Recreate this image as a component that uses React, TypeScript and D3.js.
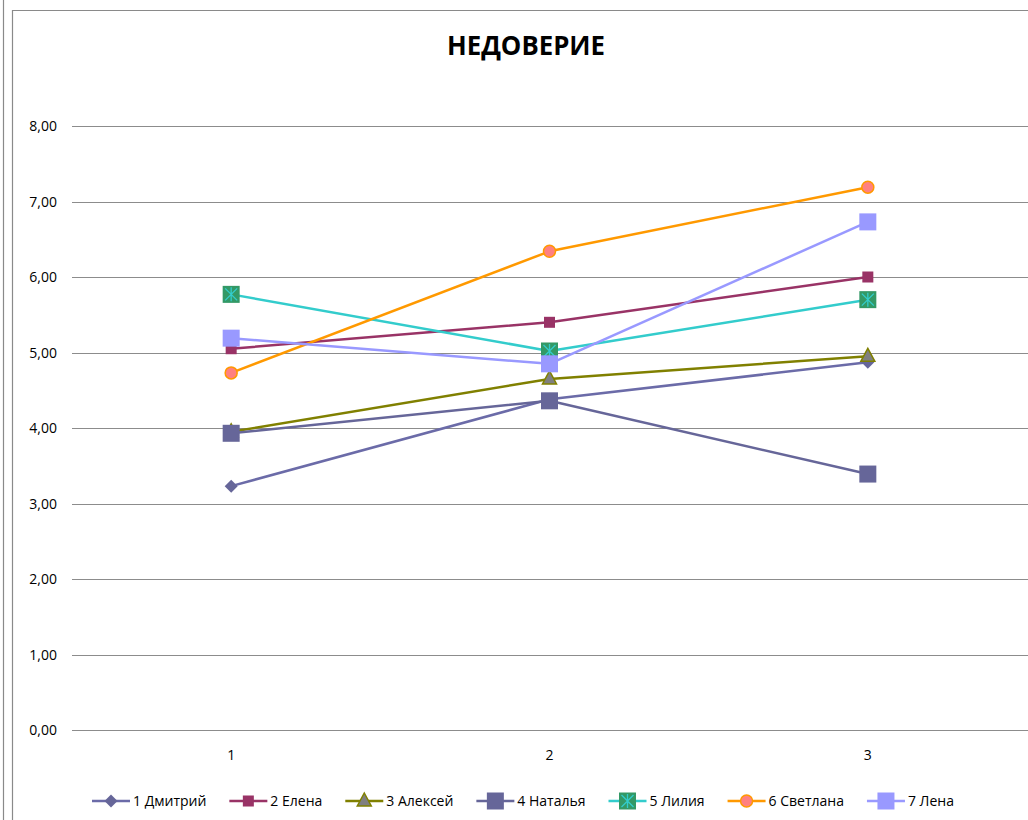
import React, {useEffect, useRef} from "react";
import * as d3 from "d3";

const categories = ["1", "2", "3"];
const seriesNames = [
	"1 Дмитрий",
	"2 Елена",
	"3 Алексей",
	"4 Наталья",
	"5 Лилия",
	"6 Светлана",
	"7 Лена",
];
const dmitry = [3.23, 4.38, 4.87];
const elena = [5.05, 5.4, 6.0];
const aleksey = [3.95, 4.65, 4.95];
const natalya = [3.93, 4.36, 3.39];
const liliya = [5.77, 5.02, 5.7];
const svetlana = [4.73, 6.34, 7.19];
const lena = [5.19, 4.85, 6.73];
const yTicks = [0, 1, 2, 3, 4, 5, 6, 7, 8];

type MarkerKind = "diamond" | "smallSquare" | "triangle" | "bigSquare" | "xSquare" | "circle";

const styles: Array<{line: string; fill: string; stroke: string; marker: MarkerKind}> = [
	{line: "#6b6ba8", fill: "#666699", stroke: "#666699", marker: "diamond"},
	{line: "#993366", fill: "#993366", stroke: "#993366", marker: "smallSquare"},
	{line: "#808000", fill: "#808080", stroke: "#808000", marker: "triangle"},
	{line: "#666699", fill: "#666699", stroke: "#666699", marker: "bigSquare"},
	{line: "#33cccc", fill: "#339966", stroke: "#33cccc", marker: "xSquare"},
	{line: "#ff9900", fill: "#ff8080", stroke: "#ff9900", marker: "circle"},
	{line: "#9999ff", fill: "#9999ff", stroke: "#9999ff", marker: "bigSquare"},
];

const W = 1028;
const H = 820;
const FONT = "'Open Sans', 'DejaVu Sans', sans-serif";

function drawMarker(g: d3.Selection<SVGGElement, unknown, null, undefined>, kind: MarkerKind, fill: string, stroke: string) {
	if (kind === "diamond") {
		g.append("path").attr("d", "M0,-6.5L6.5,0L0,6.5L-6.5,0Z").attr("fill", fill);
	} else if (kind === "smallSquare") {
		g.append("rect").attr("x", -5.5).attr("y", -5.5).attr("width", 11).attr("height", 11).attr("fill", fill);
	} else if (kind === "triangle") {
		g.append("path").attr("d", "M0,-8L7,5L-7,5Z").attr("fill", fill).attr("stroke", stroke).attr("stroke-width", 1.5);
	} else if (kind === "bigSquare") {
		g.append("rect").attr("x", -8.5).attr("y", -8.5).attr("width", 17).attr("height", 17).attr("fill", fill);
	} else if (kind === "xSquare") {
		g.append("rect").attr("x", -8.5).attr("y", -8.5).attr("width", 17).attr("height", 17).attr("fill", fill);
		g.append("path")
			.attr("d", "M-6,-6L6,6M-6,6L6,-6M0,-7L0,7")
			.attr("stroke", stroke)
			.attr("stroke-width", 1.3)
			.attr("fill", "none");
	} else {
		g.append("circle").attr("r", 6).attr("fill", fill).attr("stroke", stroke).attr("stroke-width", 1.5);
	}
}

const App: React.FC = () => {
	const svgRef = useRef<SVGSVGElement>(null);

	useEffect(() => {
		const svg = d3.select(svgRef.current);
		svg.selectAll("*").remove();

		const values = [dmitry, elena, aleksey, natalya, liliya, svetlana, lena];

		// Frame
		svg.append("rect").attr("width", W).attr("height", H).attr("fill", "#fff");
		svg.append("line").attr("x1", 3.5).attr("x2", 3.5).attr("y1", 0).attr("y2", H)
			.attr("stroke", "#8a8a8a").attr("stroke-width", 1.2);
		svg.append("path").attr("d", `M12.5,${H}V10.5H${W}`)
			.attr("fill", "none").attr("stroke", "#8a8a8a").attr("stroke-width", 1.2);

		// Title
		svg.append("text")
			.attr("x", 526)
			.attr("y", 55)
			.attr("text-anchor", "middle")
			.style("font-family", FONT)
			.style("font-size", "26px")
			.style("font-weight", "bold")
			.attr("textLength", 158)
			.attr("lengthAdjust", "spacingAndGlyphs")
			.text("НЕДОВЕРИЕ");

		const x = d3.scalePoint<string>().domain(categories).range([72, 1027]).padding(0.5);
		const y = d3.scaleLinear().domain([0, 8]).range([730, 126]);

		// Grid
		svg.append("g")
			.selectAll("line")
			.data(yTicks)
			.enter()
			.append("line")
			.attr("x1", 72)
			.attr("x2", W)
			.attr("y1", (d) => Math.round(y(d)) + 0.5)
			.attr("y2", (d) => Math.round(y(d)) + 0.5)
			.attr("stroke", "#8c8c8c")
			.attr("stroke-width", 1);

		const fmt = (d: number) => d.toFixed(2).replace(".", ",");
		svg.append("g")
			.selectAll("text")
			.data(yTicks)
			.enter()
			.append("text")
			.attr("x", 57)
			.attr("y", (d) => y(d) + 5)
			.attr("text-anchor", "end")
			.style("font-family", FONT)
			.style("font-size", "14px")
			.attr("fill", "#000")
			.text(fmt);

		svg.append("g")
			.selectAll("text")
			.data(categories)
			.enter()
			.append("text")
			.attr("x", (d) => x(d) as number)
			.attr("y", 760)
			.attr("text-anchor", "middle")
			.style("font-family", FONT)
			.style("font-size", "14px")
			.text((d) => d);

		// Lines
		const line = d3.line<number>()
			.x((_, i) => x(categories[i]) as number)
			.y((d) => y(d));

		values.forEach((vals, si) => {
			svg.append("path")
				.attr("d", line(vals))
				.attr("fill", "none")
				.attr("stroke", styles[si].line)
				.attr("stroke-width", 2.5)
				.attr("stroke-linejoin", "round");
		});

		values.forEach((vals, si) => {
			vals.forEach((v, i) => {
				const g = svg.append("g").attr("transform", `translate(${x(categories[i])},${y(v)})`);
				drawMarker(g, styles[si].marker, styles[si].fill, styles[si].stroke);
			});
		});

		// Legend
		const legend = svg.append("g");
		let cx = 92;
		seriesNames.forEach((name, si) => {
			const item = legend.append("g").attr("transform", `translate(${cx},801)`);
			item.append("line").attr("x1", 0).attr("x2", 38).attr("y1", 0).attr("y2", 0)
				.attr("stroke", styles[si].line).attr("stroke-width", 2.5);
			const m = item.append("g").attr("transform", "translate(19,0)");
			drawMarker(m, styles[si].marker, styles[si].fill, styles[si].stroke);
			const t = item.append("text")
				.attr("x", 41)
				.attr("y", 5)
				.style("font-family", FONT)
				.style("font-size", "14px")
				.text(name);
			const w = (t.node() as SVGTextElement).getComputedTextLength();
			cx += 41 + w + 23;
		});
	}, []);

	return (
		<svg
			ref={svgRef}
			width={W}
			height={H}
			style={{position: "absolute", left: 0, top: 0, display: "block"}}
		/>
	);
};

export default App;
